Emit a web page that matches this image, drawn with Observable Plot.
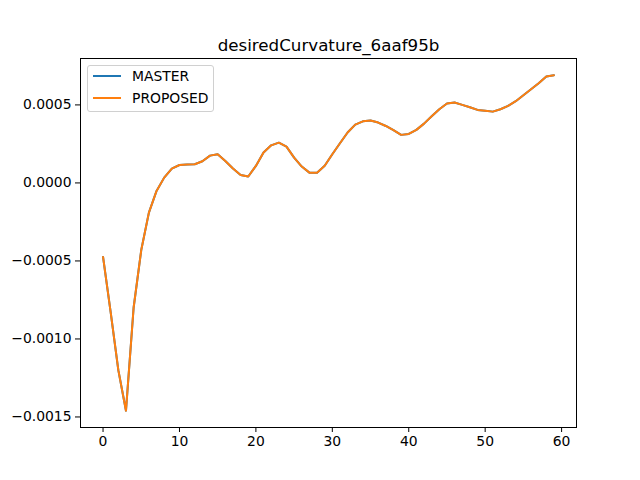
<!DOCTYPE html>
<html>
<head>
<meta charset="utf-8">
<script src="https://cdn.jsdelivr.net/npm/d3@7"></script>
<script src="https://cdn.jsdelivr.net/npm/@observablehq/plot@0.6"></script>
<style>
  body { margin: 0; background: #fff; }
  #wrap { position: relative; width: 640px; height: 480px; font-family: "DejaVu Sans", sans-serif; }
  #legend { position: absolute; left: 87px; top: 65px; width: 125px; height: 45px; border: 1px solid #d0d0d0; border-radius: 3px; background: rgba(255,255,255,0.8); }
  #legend svg { position: absolute; left: 0; top: 0; }
</style>
</head>
<body>
<div id="wrap"></div>
<script>
const title = "desiredCurvature_6aaf95b";
const seriesNames = ["MASTER", "PROPOSED"];
const seriesColors = ["#1f77b4", "#ff7f0e"];
const xTicks = [0, 10, 20, 30, 40, 50, 60];
const yTicks = [-0.0015, -0.001, -0.0005, 0, 0.0005];
const steps = d3.range(0, 60);
const masterValues = [
  -0.000474, -0.00083, -0.0012, -0.00146, -0.0008, -0.00043, -0.00019, -0.000051, 0.000034, 0.000092,
  0.000115, 0.000118, 0.00012, 0.000139, 0.000175, 0.000184, 0.000141, 0.000092, 0.000051, 0.000041,
  0.000109, 0.000195, 0.000241, 0.000258, 0.000233, 0.000162, 0.000105, 0.000066, 0.000066, 0.00011,
  0.000184, 0.000254, 0.000323, 0.000374, 0.000395, 0.0004, 0.000387, 0.000365, 0.000338, 0.000308,
  0.000314, 0.00034, 0.00038, 0.000427, 0.000472, 0.000509, 0.000515, 0.0005, 0.000485, 0.000468,
  0.000462, 0.000457, 0.000472, 0.000494, 0.000524, 0.000562, 0.0006, 0.000639, 0.000682, 0.00069
];
const proposedValues = masterValues.slice();

const rows = [];
steps.forEach((s, i) => rows.push({series: seriesNames[0], x: s, y: masterValues[i]}));
steps.forEach((s, i) => rows.push({series: seriesNames[1], x: s, y: proposedValues[i]}));

const xExt = d3.extent(steps);
const yAll = masterValues.concat(proposedValues);
const yExt = d3.extent(yAll);
const xPad = (xExt[1] - xExt[0]) * 0.05;
const yPad = (yExt[1] - yExt[0]) * 0.05;

const chart = Plot.plot({
  width: 640,
  height: 480,
  marginLeft: 80,
  marginRight: 64,
  marginTop: 58,
  marginBottom: 53,
  style: { fontFamily: "DejaVu Sans, sans-serif", fontSize: "13.9px", background: "white", color: "black" },
  x: { domain: [xExt[0] - xPad, xExt[1] + xPad] },
  y: { domain: [yExt[0] - yPad, yExt[1] + yPad] },
  color: { domain: seriesNames, range: seriesColors },
  marks: [
    Plot.line(rows, { x: "x", y: "y", z: "series", stroke: "series", strokeWidth: 2 }),
    Plot.frame({ stroke: "black", strokeWidth: 1 }),
    Plot.axisX({ ticks: xTicks, tickSize: 5, tickPadding: 4, label: null, tickFormat: d3.format("d"), fontSize: 13.9 }),
    Plot.axisY({ ticks: yTicks, tickSize: 5, tickPadding: 4, label: null, tickFormat: d3.format(".4f"), fontSize: 13.9 }),
    Plot.text([title], { frameAnchor: "top", lineAnchor: "bottom", dy: -8, fontSize: 16.7, fill: "black" })
  ]
});
const wrap = document.getElementById("wrap");
wrap.appendChild(chart);

const legend = document.createElement("div");
legend.id = "legend";
const ns = "http://www.w3.org/2000/svg";
const lsvg = document.createElementNS(ns, "svg");
lsvg.setAttribute("width", 125);
lsvg.setAttribute("height", 45);
seriesNames.forEach((name, i) => {
  const yy = 10 + i * 22;
  const ln = document.createElementNS(ns, "line");
  ln.setAttribute("x1", 5); ln.setAttribute("x2", 33);
  ln.setAttribute("y1", yy); ln.setAttribute("y2", yy);
  ln.setAttribute("stroke", seriesColors[i]);
  ln.setAttribute("stroke-width", 2);
  lsvg.appendChild(ln);
  const tx = document.createElementNS(ns, "text");
  tx.setAttribute("x", 44); tx.setAttribute("y", yy);
  tx.setAttribute("dy", "0.35em");
  tx.setAttribute("font-size", "13.9px");
  tx.setAttribute("font-family", "DejaVu Sans, sans-serif");
  tx.textContent = name;
  lsvg.appendChild(tx);
});
legend.appendChild(lsvg);
wrap.appendChild(legend);
</script>
</body>
</html>
